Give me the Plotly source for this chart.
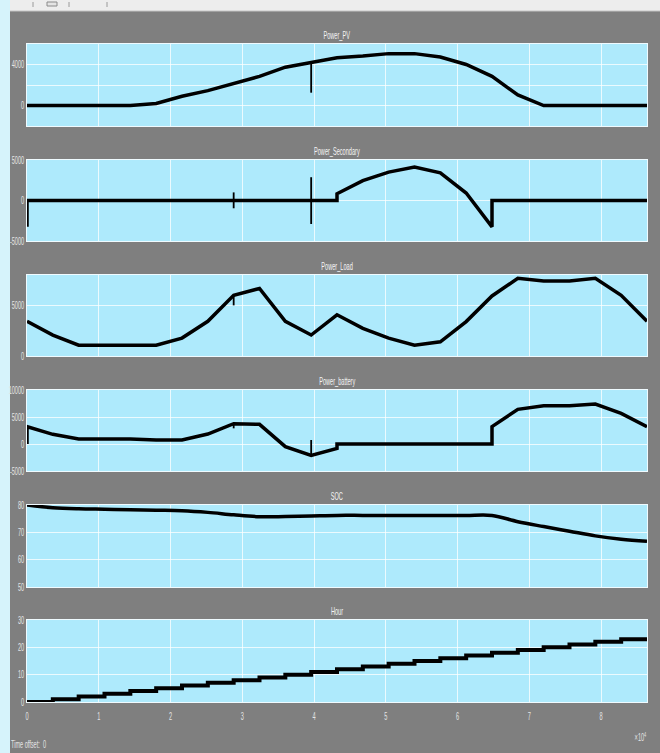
import plotly.graph_objects as go

# ---------------- data (time in hours, converted to seconds) ----------------
pv_hours = list(range(25))
pv_values = [0, 0, 0, 0, 0, 200, 900, 1450, 2180, 2840, 3735, 4165, 4660, 4830,
             5060, 5060, 4730, 4000, 2840, 1025, 0, 0, 0, 0, 0]
pv_spike_hours = [11, 11]
pv_spike_values = [4165, 1250]

sec_hours = [0, 0, 12, 12, 13, 14, 15, 16, 17, 18, 18, 24]
sec_values = [-3250, 0, 0, 830, 2460, 3500, 4125, 3420, 920, -3250, 0, 0]
sec_spike1_hours = [8, 8]
sec_spike1_values = [1000, -960]
sec_spike2_hours = [11, 11]
sec_spike2_values = [2875, -2900]

load_hours = list(range(25))
load_values = [3430, 2070, 1070, 1070, 1070, 1070, 1770, 3430, 6000, 6670, 3430, 2070,
               4070, 2730, 1770, 1070, 1400, 3400, 5930, 7670, 7400, 7400, 7670, 6000, 3430]
load_spike_hours = [8, 8]
load_spike_values = [6000, 5000]

bat_hours = [0, 0, 1, 2, 3, 4, 5, 6, 7, 8, 9, 10, 11, 12, 12, 18, 18, 19, 20, 21, 22, 23, 24]
bat_values = [0, 3210, 1790, 930, 930, 930, 740, 740, 1850, 3765, 3640, -490, -2100, -800,
              0, 0, 3210, 6420, 7100, 7100, 7410, 5680, 3210]
bat_spike1_hours = [8, 8]
bat_spike1_values = [3765, 2900]
bat_spike2_hours = [11, 11]
bat_spike2_values = [-2100, 740]

soc_hours = list(range(25))
soc_values = [80, 79.0, 78.6, 78.45, 78.3, 78.1, 77.9, 77.3, 76.4, 75.7, 75.8, 76.0, 76.2,
              76.2, 76.2, 76.2, 76.2, 76.2, 76.2, 73.9, 72.1, 70.4, 68.7, 67.5, 66.7]

hour_hours = list(range(25))
hour_values = list(range(24)) + [23]

titles = ["Power_PV", "Power_Secondary", "Power_Load", "Power_battery", "SOC", "Hour"]
y_ranges = [[-2000, 6000], [-5000, 5000], [0, 8000], [-5000, 10000], [50, 80], [0, 30]]
y_tickvals = [[0, 4000], [-5000, 0, 5000], [0, 5000], [-5000, 0, 5000, 10000],
              [50, 60, 70, 80], [0, 10, 20, 30]]
y_ticktext = [["0", "4000"], ["-5000", "0", "5000"], ["0", "5000"],
              ["-5000", "0", "5000", "10000"], ["50", "60", "70", "80"], ["0", "10", "20", "30"]]
y_extra_grid = [[2000], [], [], [], [], []]
x_tickvals = [0, 10000, 20000, 30000, 40000, 50000, 60000, 70000, 80000]
x_ticktext = ["0", "1", "2", "3", "4", "5", "6", "7", "8"]

SEC = 3600


def s(hours):
    return [h * SEC for h in hours]


# ---------------- layout geometry ----------------
W, H = 660, 753
ML, MR, MT, MB = 27, 13, 44, 51
PH = H - MT - MB
PW = W - ML - MR
panels_px = [(44, 126), (160, 241), (275, 356), (390, 471), (505, 587), (620, 702)]


def py(p):
    return (H - MB - p) / PH


def px(p):
    return (p - ML) / PW


BG = "#7f7f7f"
PLOT_BG = "#aeeafc"
GRID = "rgba(255,255,255,0.75)"
TXT = "#e4e4e4"
FONT = "Liberation Sans, Arial, sans-serif"

fig = go.Figure()

main_series = [
    (pv_hours, pv_values, None),
    (sec_hours, sec_values, None),
    (load_hours, load_values, None),
    (bat_hours, bat_values, None),
    (soc_hours, soc_values, "spline"),
    (hour_hours, hour_values, "hv"),
]
spikes = {
    0: [(pv_spike_hours, pv_spike_values)],
    1: [(sec_spike1_hours, sec_spike1_values), (sec_spike2_hours, sec_spike2_values)],
    2: [(load_spike_hours, load_spike_values)],
    3: [(bat_spike1_hours, bat_spike1_values), (bat_spike2_hours, bat_spike2_values)],
}

for i, (hrs, vals, shape) in enumerate(main_series):
    n = "" if i == 0 else str(i + 1)
    line = dict(color="black", width=3.5 if i < 5 else 4)
    if shape:
        line["shape"] = shape
    fig.add_trace(go.Scatter(x=s(hrs), y=vals, mode="lines", line=line,
                             xaxis="x" + n, yaxis="y" + n, showlegend=False,
                             hoverinfo="skip"))
    for sh, sv in spikes.get(i, []):
        fig.add_trace(go.Scatter(x=s(sh), y=sv, mode="lines",
                                 line=dict(color="black", width=1.8),
                                 xaxis="x" + n, yaxis="y" + n, showlegend=False,
                                 hoverinfo="skip"))

    top, bot = panels_px[i]
    last = i == 5
    fig.layout["xaxis" + n] = dict(
        domain=[0, 1], anchor="y" + n, range=[0, 86400], automargin=False,
        tickvals=x_tickvals, ticktext=x_ticktext, showticklabels=last,
        showgrid=True, gridcolor=GRID, gridwidth=1, zeroline=False,
        showline=True, linecolor="#f0fbff", linewidth=1, mirror=True,
        ticks="", ticklabelstandoff=5, tickfont=dict(family=FONT, size=10, color=TXT),
    )
    yax = dict(
        domain=[py(bot), py(top)], anchor="x" + n, range=y_ranges[i], automargin=False,
        tickvals=y_tickvals[i], ticktext=y_ticktext[i],
        showgrid=True, gridcolor=GRID, gridwidth=1, zeroline=False,
        showline=True, linecolor="#f0fbff", linewidth=1, mirror=True,
        ticks="", tickfont=dict(family=FONT, size=10, color=TXT),
    )
    if y_extra_grid[i]:
        yax["minor"] = dict(tickvals=y_extra_grid[i], showgrid=True, gridcolor=GRID,
                            gridwidth=1, ticks="")
    fig.layout["yaxis" + n] = yax
    fig.add_annotation(text=titles[i], xref="paper", yref="paper", x=0.5,
                       y=py(top - 9), xanchor="center", yanchor="middle",
                       showarrow=False, font=dict(family=FONT, size=10, color="#f4f4f4"))

fig.add_annotation(text="×10<sup>4</sup>", xref="paper", yref="paper", x=px(640),
                   y=py(737), xanchor="center", yanchor="middle", showarrow=False,
                   font=dict(family=FONT, size=10, color=TXT))
fig.add_annotation(text="Time offset:  0", xref="paper", yref="paper", x=px(28),
                   y=py(744), xanchor="center", yanchor="middle", showarrow=False,
                   font=dict(family=FONT, size=10, color=TXT))

shapes = [
    # window background on the left
    dict(type="rect", xref="paper", yref="paper", x0=px(0), x1=px(10), y0=py(H), y1=py(0),
         fillcolor="#d6f3fb", line=dict(width=0), layer="below"),
    # toolbar strip at the top
    dict(type="rect", xref="paper", yref="paper", x0=px(10), x1=px(W), y0=py(11), y1=py(0),
         fillcolor="#ededed", line=dict(width=0), layer="below"),
    dict(type="line", xref="paper", yref="paper", x0=px(10), x1=px(W), y0=py(11), y1=py(11),
         line=dict(color="#c4c4c4", width=1), layer="below"),
]
for sx in [33, 69, 107]:
    shapes.append(dict(type="line", xref="paper", yref="paper", x0=px(sx), x1=px(sx),
                       y0=py(7), y1=py(2), line=dict(color="#9a9a9a", width=1), layer="below"))
shapes.append(dict(type="rect", xref="paper", yref="paper", x0=px(47), x1=px(57),
                   y0=py(6), y1=py(2), line=dict(color="#8a8a8a", width=1),
                   fillcolor="#e4e4e4", layer="below"))
fig.update_layout(shapes=shapes)

fig.update_layout(
    width=W, height=H, margin=dict(l=ML, r=MR, t=MT, b=MB, autoexpand=False),
    paper_bgcolor=BG, plot_bgcolor=PLOT_BG, showlegend=False,
    font=dict(family=FONT, size=10, color=TXT),
)

# The scope's lettering is horizontally compressed: squeeze every SVG text about its anchor.
post = """
document.body.style.margin='0';document.body.style.padding='0';
var gd = document.querySelector('.plotly-graph-div');
var S = 0.56;
gd.querySelectorAll('svg text').forEach(function(t){
  var b = t.getBBox();
  if (!b.width) return;
  var a = t.getAttribute('text-anchor') || 'start';
  var ax = a === 'end' ? b.x + b.width : (a === 'middle' ? b.x + b.width / 2 : b.x);
  var tr = t.getAttribute('transform') || '';
  t.setAttribute('transform', tr + ' translate(' + ax + ',0) scale(' + S + ',1) translate(' + (-ax) + ',0)');
});
"""

fig.write_html("out.html", post_script=post, config={"displayModeBar": False})
